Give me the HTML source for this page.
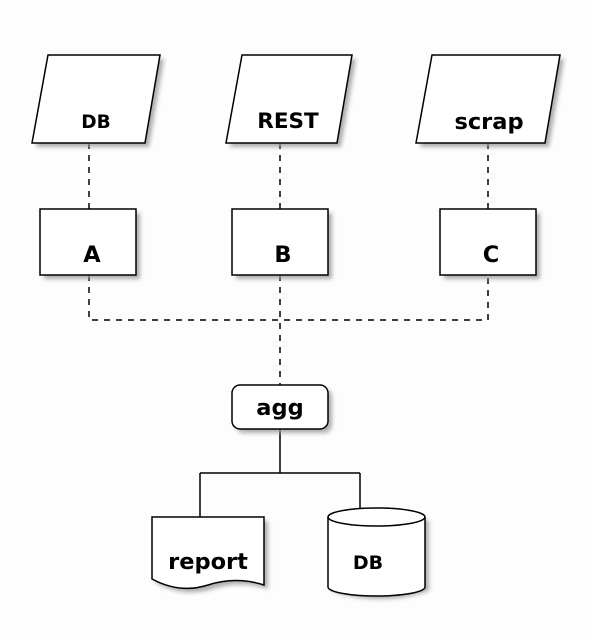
<!DOCTYPE html>
<html><head><style>body{margin:0;background:#fff}</style></head><body>
<svg width="592" height="638" xmlns="http://www.w3.org/2000/svg" font-family="'DejaVu Sans','Liberation Sans',sans-serif" font-weight="bold">
<defs><filter id="s" x="-20%" y="-20%" width="150%" height="150%"><feGaussianBlur stdDeviation="2"/></filter></defs>
<rect width="592" height="638" fill="#fdfdfd"/>
<g stroke="#000" stroke-width="1.5" fill="none" stroke-dasharray="6,6">
<path d="M89 143V209M280 143V209M488 143V209"/>
<path d="M89 275V320H488V275M280 275V385"/>
</g>
<g stroke="#000" stroke-width="1.5" fill="none">
<path d="M280 429V473M200 473H360M200 473V517M360 473V522"/>
</g>
<g fill="#999" filter="url(#s)" opacity="0.8">
<path d="M52 59H164L149 147H36Z"/><path d="M246 59H356L341 147H230Z"/><path d="M436 59H564L549 147H420Z"/>
<rect x="44" y="213" width="96" height="66"/><rect x="236" y="213" width="96" height="66"/><rect x="444" y="213" width="96" height="66"/>
<rect x="236" y="389" width="96" height="44" rx="8"/>
<path d="M156 521H268V589Q240 580 212 589T156 583Z"/>
<path d="M332 521Q380 505 429 521V591Q380 607 332 591Z"/>
</g>
<g fill="#fff" stroke="#000" stroke-width="1.5">
<path d="M48 55H160L145 143H32Z"/><path d="M242 55H352L337 143H226Z"/><path d="M432 55H560L545 143H416Z"/>
<rect x="40" y="209" width="96" height="66"/><rect x="232" y="209" width="96" height="66"/><rect x="440" y="209" width="96" height="66"/>
<rect x="232" y="385" width="96" height="44" rx="8"/>
<path d="M152 517H264V585Q236 576 208 585T152 579Z"/>
<path d="M328 517V587A48.5 9 0 0 0 425 587V517A48.5 9 0 0 0 328 517Z"/>
<path d="M328 517A48.5 9 0 0 0 425 517" fill="none"/>
</g>
<g text-anchor="middle" fill="#000">
<text x="96" y="128" font-size="18.5">DB</text>
<text x="288" y="128" font-size="21.5">REST</text>
<text x="489" y="129" font-size="22.5">scrap</text>
<text x="92" y="262" font-size="22.5">A</text>
<text x="283" y="262" font-size="22.5">B</text>
<text x="491" y="262" font-size="22.5">C</text>
<text x="280" y="415" font-size="22.5">agg</text>
<text x="208" y="569" font-size="22.5">report</text>
<text x="368" y="569" font-size="19">DB</text>
</g>
</svg>
</body></html>
